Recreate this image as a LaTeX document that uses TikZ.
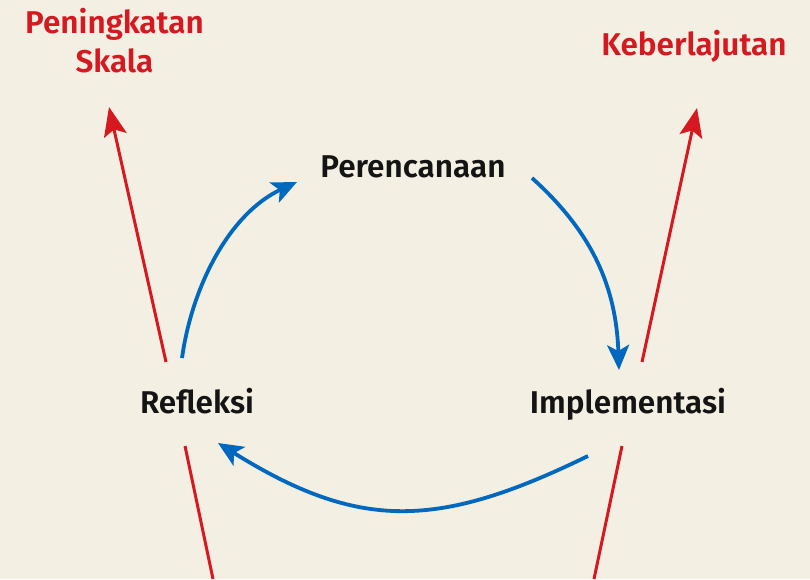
\documentclass[tikz,border=0pt]{standalone}
\usepackage{fontspec}
\setmainfont{Fira Sans}[UprightFont={* SemiBold}]
\usepackage{tikz}
\usetikzlibrary{arrows.meta}
\usepackage{xcolor}
\definecolor{paper}{RGB}{243,239,226}
\definecolor{cycblue}{RGB}{0,104,190}
\definecolor{outred}{RGB}{214,24,32}
\tikzset{
  stage/.style  ={inner sep=0pt, anchor=base, text=black!92,
                  font=\fontsize{31.5}{39}\selectfont},
  goal/.style   ={inner sep=0pt, anchor=base, text=outred, align=center,
                  font=\fontsize{31.5}{39}\selectfont},
  cyc/.style    ={-{Stealth[length=25pt, width=22pt, inset=6pt]},
                  line width=3.8pt, cycblue},
  outarr/.style ={-{Stealth[length=29pt, width=23pt, inset=6pt]},
                  line width=3pt, outred},
  outln/.style  ={line width=3pt, outred},
}

\begin{document}
\begin{tikzpicture}[x=1pt, y=1pt]
  \fill[paper] (0,0) rectangle (810,-579);
  \useasboundingbox (0,0) rectangle (810,-579);
  % stages of the cycle
  \node[stage] (plan) at (413,-177) {Perencanaan};
  \node[stage] (impl) at (628,-413) {Implementasi};
  \node[stage] (refl) at (197,-413) {Refleksi};
  % outcomes (base = last line)
  \node[goal] (scale) at (114.5,-72) {Peningkatan\\Skala};
  \node[goal] (sust) at (694,-55) {Keberlajutan};
  % end points of the arrows
  \coordinate (plan-in)   at (297,-182);
  \coordinate (plan-out)  at (532,-178);
  \coordinate (impl-in)   at (619,-370);
  \coordinate (impl-out)  at (588,-456);
  \coordinate (refl-in)   at (218,-443);
  \coordinate (refl-out)  at (182,-358);
  \coordinate (scale-tip) at (109,-107);
  \coordinate (sust-tip)  at (697,-108);
  \coordinate (refl-up)   at (166,-362);
  \coordinate (refl-dn)   at (185,-446);
  \coordinate (refl-end)  at (213,-579);
  \coordinate (impl-up)   at (642,-362);
  \coordinate (impl-dn)   at (622,-446);
  \coordinate (impl-end)  at (594,-579);
  % cycle
  \draw[cyc] (refl-out) to[out=82, in=205, looseness=0.9] (plan-in);
  \draw[cyc] (plan-out) to[out=-42, in=92] (impl-in);
  \draw[cyc] (impl-out) to[out=206, in=328, looseness=1.15] (refl-in);
  % lines going out of the cycle
  \draw[outarr] (refl-up) -- (scale-tip);
  \draw[outln]  (refl-dn) -- (refl-end);
  \draw[outarr] (impl-up) -- (sust-tip);
  \draw[outln]  (impl-dn) -- (impl-end);
\end{tikzpicture}
\end{document}
